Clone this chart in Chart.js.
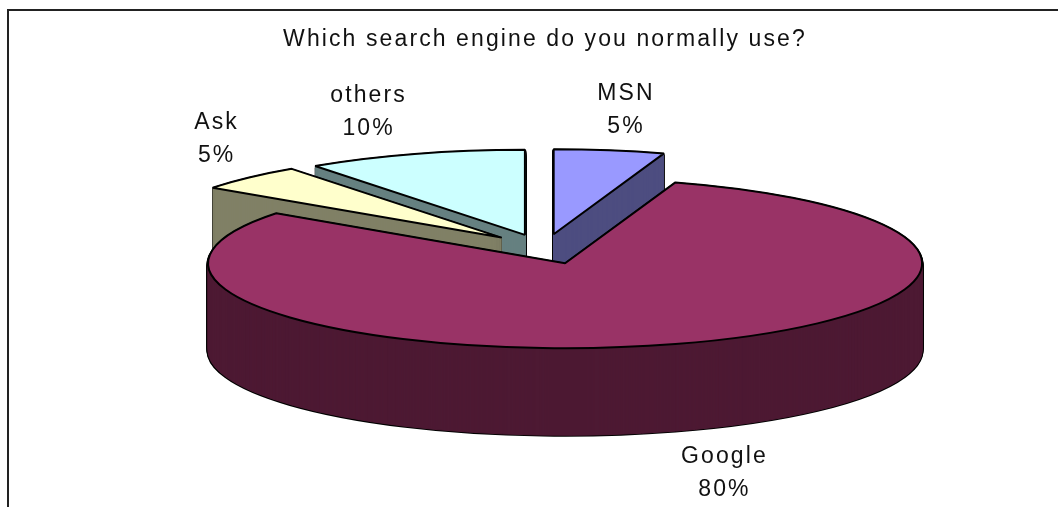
<!DOCTYPE html>
<html>
<head>
<meta charset="utf-8">
<title>Which search engine do you normally use?</title>
<script src="https://cdn.jsdelivr.net/npm/chart.js@4/dist/chart.umd.min.js"></script>
<style>
    html, body { margin: 0; padding: 0; background: #fff; overflow: hidden; }
    #wrap { position: relative; width: 1058px; height: 507px; }
    #frame { position: absolute; left: 7px; top: 9px; width: 1051px; height: 498px;
             border-left: 2px solid #222; border-top: 2px solid #222; box-sizing: border-box; }
    canvas { position: absolute; left: 0; top: 0; }
</style>
</head>
<body>
<div id="wrap">
    <div id="frame"></div>
    <canvas id="pie" width="1058" height="507"></canvas>
</div>
<script>
const chartTitle = 'Which search engine do you normally use?';
const categories = ['MSN', 'Google', 'Ask', 'others'];
const shares = [5, 80, 5, 10];

const topColors = ['#9999ff', '#993366', '#ffffcc', '#ccffff'];
const wallColors = ['#4d4d80', '#4d1933', '#808066', '#668080'];

// look of the tilted pie
const squash = 85 / 357;
const depth = 87;
const explode = 65;
const paintOrder = [3, 2, 0, 1];
const sliceNudge = [[-1.5, 1], [0, 0], [2.5, 0], [0, 1]];
const labelFont = '23px "Liberation Sans", Arial, sans-serif';
const textSpacing = '2.1px';
// label centre, relative to the rim of its slice
const labelShift = [[15, -39], [49, 129], [-30, -38.5], [-46, -41]];

function drawSlice(ctx, arc, i, dy, look) {
    const mid = (arc.startAngle + arc.endAngle) / 2;
    const saved = arc.options;
    arc.options = Object.assign({}, saved, look);
    ctx.save();
    ctx.translate(arc.x + sliceNudge[i][0], arc.y + sliceNudge[i][1] + dy);
    ctx.scale(1, squash);
    ctx.translate(Math.cos(mid) * explode - arc.x, Math.sin(mid) * explode - arc.y);
    arc.draw(ctx);
    ctx.restore();
    arc.options = saved;
}

const tiltedPie = {
    id: 'tiltedPie',
    beforeDraw(chart) {
        chart.ctx.letterSpacing = textSpacing;
    },
    beforeDatasetsDraw(chart) {
        const ctx = chart.ctx;
        const arcs = chart.getDatasetMeta(0).data;
        // keep the outline even although the path is squashed
        const nativeStroke = ctx.stroke;
        ctx.stroke = function () {
            ctx.save();
            ctx.setTransform(1, 0, 0, 1, 0, 0);
            nativeStroke.call(ctx);
            ctx.restore();
        };
        paintOrder.forEach(i => {
            for (let d = depth; d > 0; d--) {
                drawSlice(ctx, arcs[i], i, d, { backgroundColor: '#000', borderColor: '#000', borderWidth: 3 });
            }
            for (let d = depth; d > 0; d--) {
                drawSlice(ctx, arcs[i], i, d, { backgroundColor: wallColors[i], borderColor: wallColors[i], borderWidth: 1 });
            }
            drawSlice(ctx, arcs[i], i, 0, { backgroundColor: topColors[i], borderColor: '#000', borderWidth: 2 });
        });
        delete ctx.stroke;
        return false;
    },
    afterDraw(chart) {
        const ctx = chart.ctx;
        const arcs = chart.getDatasetMeta(0).data;
        ctx.save();
        ctx.font = labelFont;
        ctx.fillStyle = '#111';
        ctx.textAlign = 'center';
        ctx.textBaseline = 'middle';
        arcs.forEach((arc, i) => {
            const mid = (arc.startAngle + arc.endAngle) / 2;
            const r = arc.outerRadius + explode;
            const x = arc.x + Math.cos(mid) * r + labelShift[i][0];
            const y = arc.y + Math.sin(mid) * r * squash + labelShift[i][1];
            ctx.fillText(categories[i], x, y - 16.5);
            ctx.fillText(shares[i] + '%', x, y + 16.5);
        });
        ctx.restore();
    }
};

new Chart(document.getElementById('pie').getContext('2d'), {
    type: 'pie',
    data: {
        labels: categories,
        datasets: [{ data: shares, backgroundColor: topColors, borderColor: '#000', borderWidth: 1 }]
    },
    plugins: [tiltedPie],
    options: {
        responsive: false,
        animation: false,
        radius: 357,
        layout: { padding: { left: 32, bottom: 63 } },
        plugins: {
            legend: { display: false },
            tooltip: { enabled: false },
            title: {
                display: true,
                text: chartTitle,
                color: '#111',
                font: { family: '"Liberation Sans", Arial, sans-serif', size: 23, weight: 'normal' },
                padding: { top: 25.5, bottom: 0 }
            }
        }
    }
});
</script>
</body>
</html>
